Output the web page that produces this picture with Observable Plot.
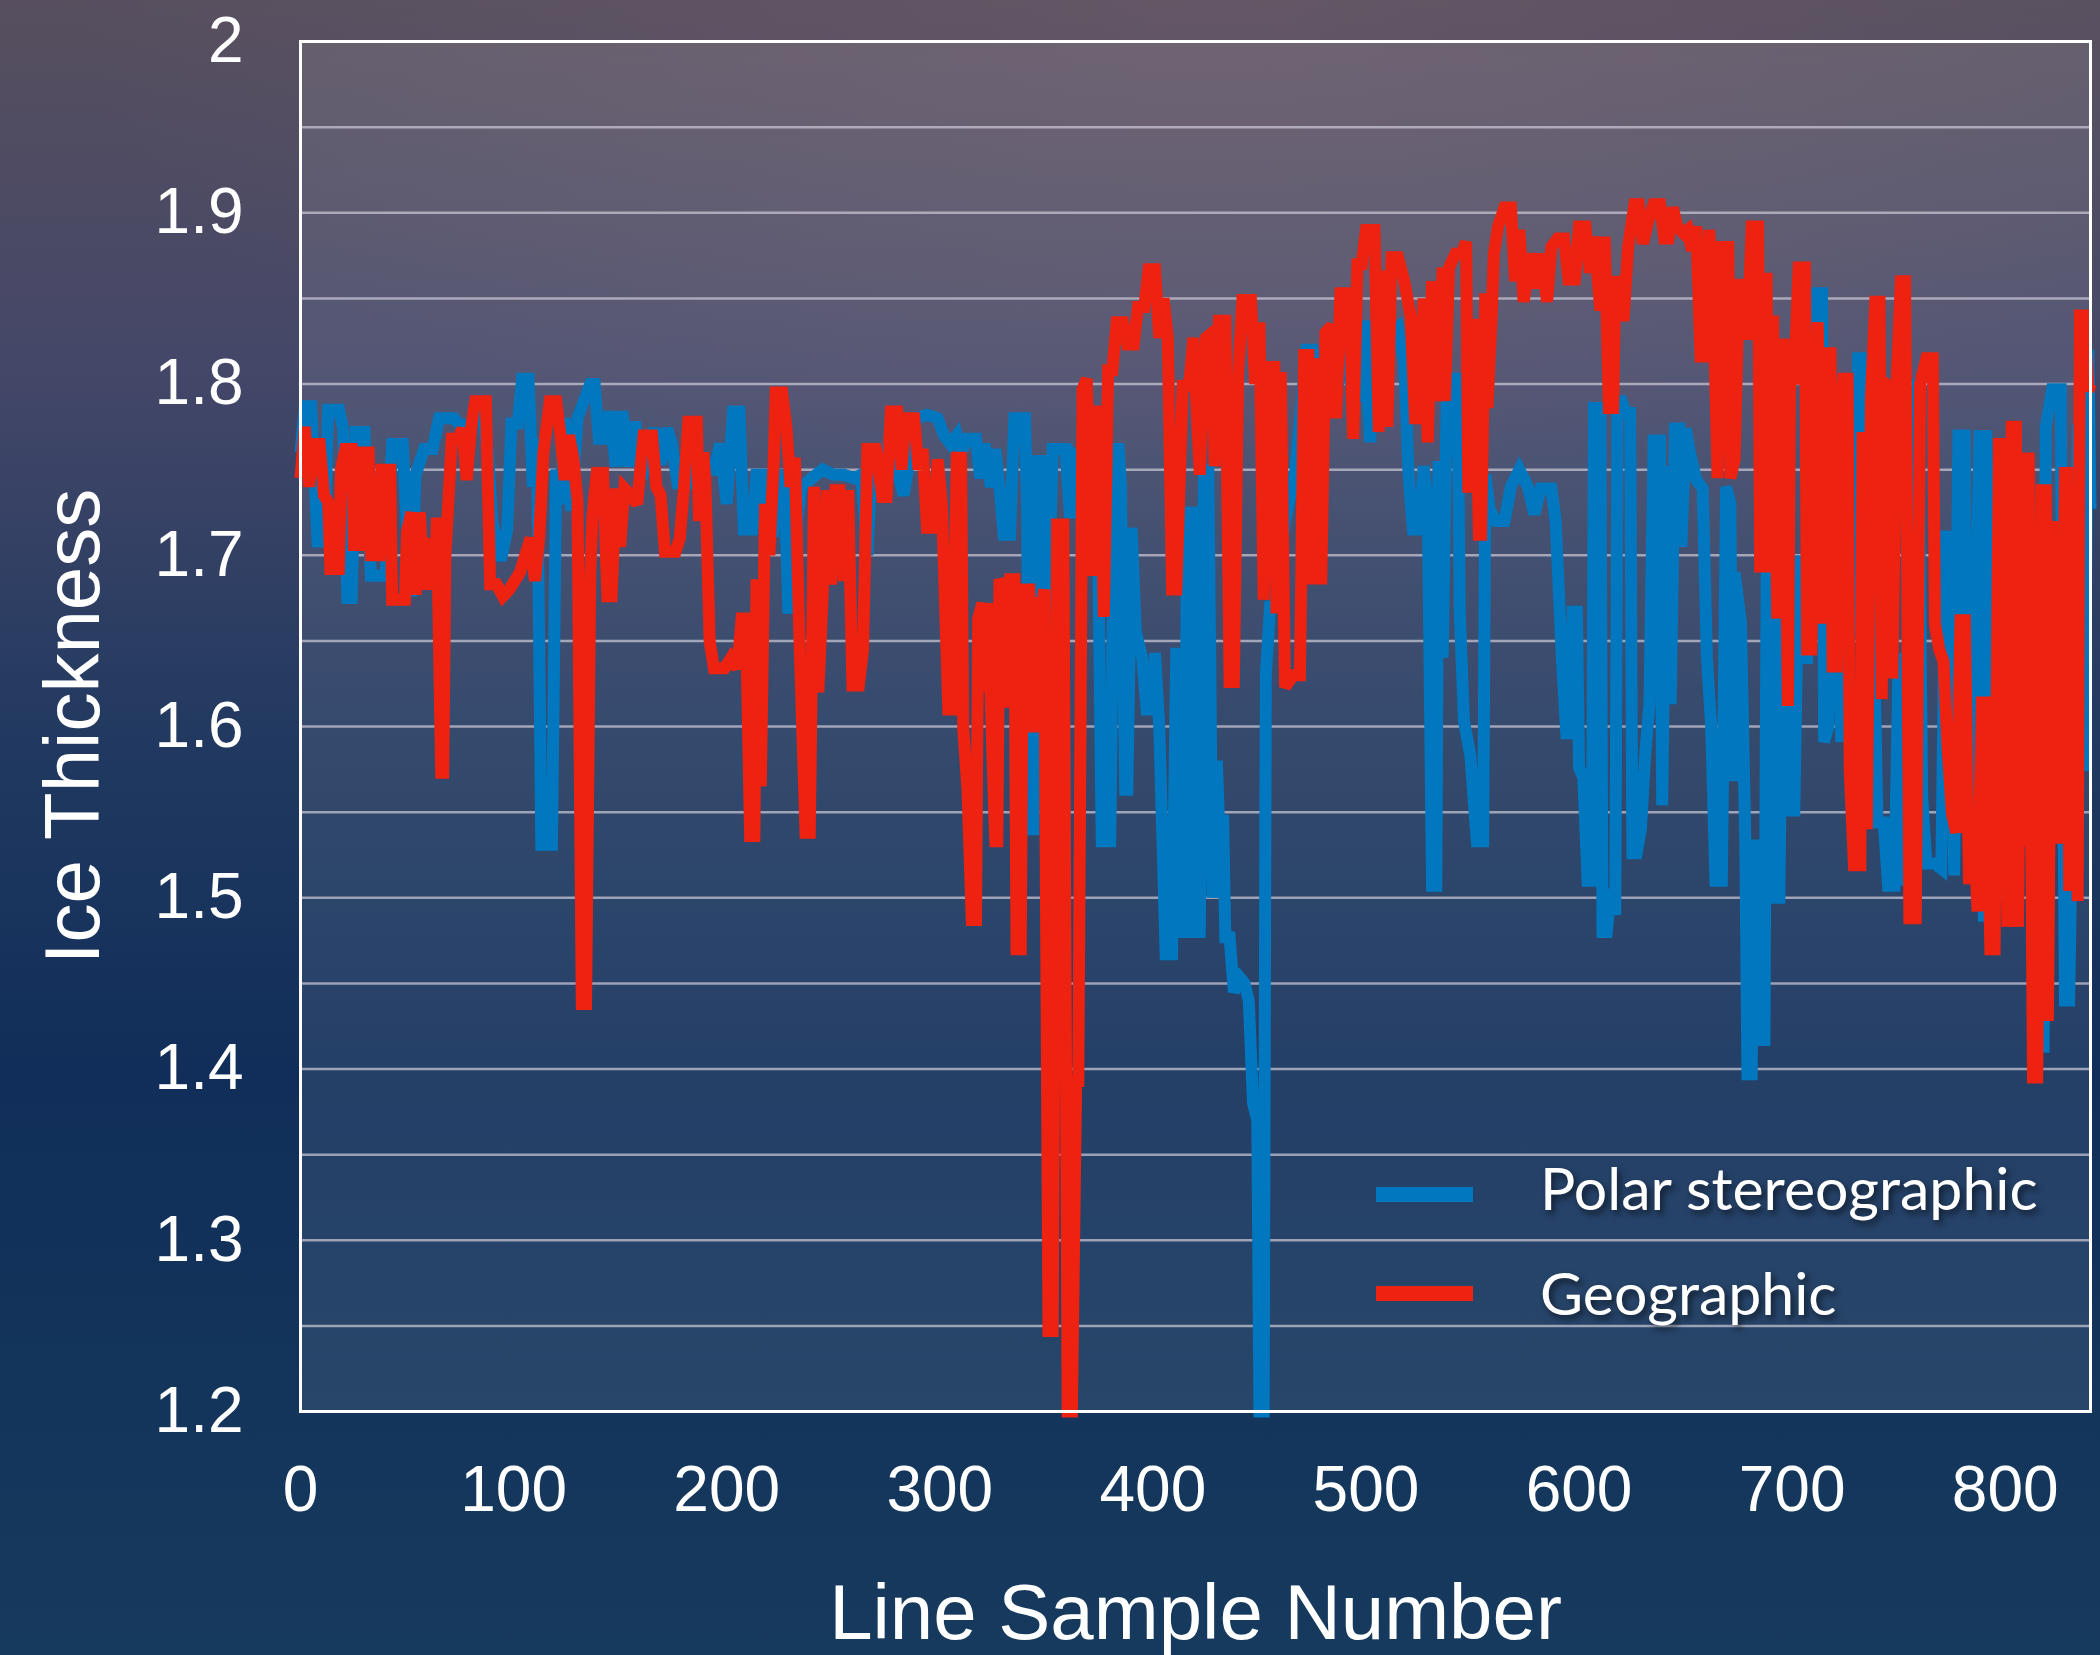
<!DOCTYPE html>
<html>
<head>
<meta charset="utf-8">
<script src="https://cdn.jsdelivr.net/npm/d3@7"></script>
<script src="https://cdn.jsdelivr.net/npm/@observablehq/plot@0.6"></script>
<style>
  html, body { margin: 0; padding: 0; }
  body {
    width: 2100px; height: 1655px; overflow: hidden;
    background:
      radial-gradient(ellipse 55% 30% at 58% 0%, rgba(120,98,112,0.4), rgba(120,98,112,0) 100%),
      linear-gradient(to bottom, #574f5e 0%, #444768 22%, #213960 45%, #102e59 65%, #163a5d 100%);
  }
  #wrap { position: relative; width: 2100px; height: 1655px; }
  #wrap svg { position: absolute; left: 0; top: 0; }
  .sw { position: absolute; width: 97px; height: 15px; }
  .lt { position: absolute; font-family: Lato, "Open Sans", sans-serif; font-size: 59px; line-height: 1.2; color: #fff;
        white-space: nowrap; text-shadow: 3px 4px 6px rgba(0,0,0,0.55); }
</style>
</head>
<body>
<div id="wrap"></div>
<script>
// ---- data ----
const seriesNames = ["Polar stereographic", "Geographic"];
const seriesColors = ["#0077bf", "#ee2211"];
const xTicks = [0, 100, 200, 300, 400, 500, 600, 700, 800];
const yTicks = [1.2, 1.3, 1.4, 1.5, 1.6, 1.7, 1.8, 1.9, 2];
const gridValues = [1.25, 1.3, 1.35, 1.4, 1.45, 1.5, 1.55, 1.6, 1.65, 1.7, 1.75, 1.8, 1.85, 1.9, 1.95];
const xLabel = "Line Sample Number";
const yLabel = "Ice Thickness";

const polarStereographic = [[0,1.76],[2,1.787],[5,1.787],[8,1.708],[11,1.708],[13,1.785],[18,1.785],[20,1.774],[22,1.675],[24,1.675],[26,1.772],[30,1.772],[33,1.688],[40,1.688],[43,1.765],[48,1.765],[50,1.715],[52,1.676],[54,1.747],[58,1.762],[62,1.762],[65,1.78],[72,1.78],[75,1.776],[80,1.776],[82,1.786],[85,1.786],[88,1.76],[90,1.72],[94,1.697],[97,1.715],[99,1.777],[102,1.777],[104,1.803],[107,1.803],[109,1.74],[111,1.768],[113,1.531],[118,1.531],[120,1.75],[122,1.73],[124,1.78],[127,1.726],[130,1.78],[133,1.79],[136,1.80],[138,1.80],[140,1.768],[143,1.768],[145,1.784],[148,1.752],[151,1.784],[154,1.752],[157,1.778],[160,1.745],[163,1.76],[166,1.774],[169,1.753],[172,1.774],[174,1.766],[177,1.742],[182,1.742],[185,1.765],[188,1.745],[191,1.75],[194,1.75],[197,1.765],[200,1.73],[203,1.784],[206,1.784],[208,1.715],[212,1.715],[214,1.747],[217,1.747],[219,1.714],[222,1.714],[224,1.747],[227,1.747],[229,1.666],[231,1.70],[235,1.74],[240,1.745],[245,1.75],[250,1.747],[255,1.747],[260,1.745],[263,1.747],[265,1.72],[266,1.70],[268,1.75],[270,1.762],[275,1.762],[278,1.755],[280,1.75],[283,1.735],[285,1.75],[289,1.78],[294,1.782],[299,1.78],[302,1.77],[305,1.765],[308,1.77],[310,1.76],[313,1.768],[317,1.768],[319,1.745],[321,1.765],[324,1.74],[326,1.762],[328,1.74],[330,1.712],[333,1.712],[335,1.78],[340,1.78],[341,1.725],[342,1.54],[344,1.54],[345,1.755],[348,1.755],[349,1.672],[351,1.672],[353,1.762],[359,1.762],[361,1.725],[363,1.725],[364,1.757],[370,1.75],[374,1.74],[376,1.533],[380,1.533],[382,1.762],[384,1.762],[385,1.74],[387,1.563],[388,1.563],[390,1.716],[392,1.655],[395,1.64],[397,1.61],[400,1.61],[401,1.643],[403,1.60],[406,1.467],[409,1.467],[411,1.646],[413,1.48],[415,1.48],[416,1.725],[419,1.725],[420,1.48],[422,1.48],[424,1.75],[426,1.75],[428,1.50],[430,1.58],[431,1.545],[433,1.545],[434,1.477],[436,1.477],[438,1.445],[441,1.453],[443,1.45],[445,1.44],[447,1.38],[449,1.37],[450,1.2],[452,1.2],[453,1.63],[455,1.67],[457,1.67],[462,1.72],[467,1.75],[472,1.82],[475,1.82],[478,1.80],[481,1.806],[484,1.79],[487,1.80],[490,1.817],[493,1.80],[496,1.79],[499,1.837],[502,1.766],[504,1.837],[508,1.80],[512,1.83],[515,1.833],[518,1.812],[520,1.747],[522,1.715],[525,1.715],[527,1.752],[529,1.731],[531,1.507],[533,1.507],[534,1.755],[536,1.64],[538,1.80],[539,1.757],[540,1.803],[543,1.803],[544,1.667],[546,1.603],[549,1.583],[552,1.533],[555,1.533],[556,1.747],[558,1.727],[561,1.72],[565,1.72],[568,1.74],[572,1.75],[576,1.74],[579,1.724],[582,1.739],[587,1.739],[589,1.72],[592,1.638],[594,1.596],[596,1.596],[597,1.667],[599,1.667],[600,1.576],[602,1.57],[604,1.51],[606,1.51],[607,1.786],[610,1.786],[611,1.48],[613,1.48],[615,1.505],[617,1.49],[618,1.79],[620,1.79],[622,1.783],[624,1.783],[625,1.526],[627,1.526],[629,1.54],[631,1.583],[633,1.613],[635,1.767],[638,1.767],[639,1.554],[641,1.752],[643,1.613],[645,1.774],[647,1.774],[648,1.705],[650,1.774],[652,1.76],[655,1.744],[658,1.739],[660,1.64],[662,1.60],[664,1.51],[667,1.51],[669,1.74],[671,1.73],[672,1.568],[673,1.69],[676,1.66],[678,1.534],[679,1.397],[681,1.397],[682,1.534],[683,1.492],[685,1.417],[687,1.417],[688,1.69],[690,1.69],[692,1.50],[694,1.50],[696,1.72],[698,1.551],[701,1.551],[703,1.70],[705,1.64],[707,1.64],[709,1.72],[711,1.853],[714,1.853],[715,1.591],[717,1.60],[719,1.75],[721,1.80],[723,1.591],[725,1.70],[727,1.65],[729,1.72],[731,1.815],[734,1.815],[736,1.60],[738,1.68],[740,1.544],[743,1.544],[745,1.507],[748,1.507],[750,1.642],[751,1.507],[753,1.643],[755,1.58],[757,1.62],[759,1.803],[761,1.559],[763,1.52],[767,1.52],[770,1.517],[772,1.711],[775,1.711],[776,1.513],[778,1.77],[781,1.77],[782,1.547],[785,1.60],[788,1.773],[790,1.486],[791,1.773],[793,1.677],[795,1.62],[798,1.65],[802,1.60],[806,1.62],[810,1.547],[813,1.659],[816,1.413],[818,1.413],[819,1.775],[822,1.797],[826,1.797],[828,1.44],[830,1.44],[832,1.60],[834,1.773],[836,1.773],[837,1.574],[839,1.82],[840,1.727]];

const geographic = [[0,1.745],[2,1.775],[4,1.74],[6,1.765],[9,1.765],[11,1.735],[13,1.731],[14,1.692],[18,1.692],[19,1.75],[21,1.762],[24,1.762],[25,1.706],[28,1.706],[29,1.76],[32,1.76],[33,1.70],[37,1.70],[38,1.75],[42,1.75],[43,1.674],[49,1.674],[50,1.714],[52,1.725],[54,1.677],[56,1.725],[58,1.68],[61,1.71],[63,1.68],[64,1.722],[66,1.573],[67,1.573],[68,1.70],[71,1.768],[74,1.768],[76,1.774],[78,1.744],[80,1.774],[82,1.79],[87,1.79],[89,1.683],[92,1.683],[95,1.676],[98,1.68],[103,1.69],[108,1.71],[110,1.685],[112,1.71],[114,1.76],[117,1.79],[120,1.79],[122,1.77],[124,1.744],[126,1.77],[128,1.757],[130,1.732],[132,1.438],[134,1.438],[136,1.69],[137,1.723],[139,1.748],[142,1.748],[144,1.676],[146,1.676],[148,1.739],[150,1.705],[152,1.739],[155,1.735],[158,1.73],[161,1.77],[165,1.77],[167,1.74],[169,1.735],[171,1.702],[176,1.702],[178,1.71],[180,1.74],[182,1.778],[186,1.778],[187,1.72],[189,1.76],[190,1.743],[192,1.65],[194,1.634],[199,1.634],[202,1.64],[205,1.634],[207,1.663],[209,1.663],[211,1.536],[213,1.536],[214,1.686],[216,1.565],[218,1.73],[220,1.70],[222,1.753],[223,1.795],[226,1.795],[228,1.775],[230,1.74],[232,1.757],[234,1.657],[237,1.538],[239,1.538],[241,1.74],[243,1.62],[245,1.675],[247,1.738],[249,1.683],[251,1.738],[253,1.738],[255,1.685],[257,1.738],[259,1.624],[262,1.624],[264,1.645],[266,1.762],[270,1.762],[273,1.734],[275,1.734],[277,1.784],[280,1.784],[282,1.75],[284,1.78],[288,1.78],[290,1.75],[292,1.762],[294,1.716],[297,1.716],[299,1.756],[301,1.73],[304,1.61],[306,1.61],[308,1.757],[310,1.757],[311,1.599],[313,1.563],[315,1.487],[317,1.487],[318,1.663],[320,1.672],[321,1.62],[323,1.672],[324,1.611],[326,1.533],[327,1.533],[328,1.686],[330,1.68],[331,1.611],[333,1.686],[335,1.686],[336,1.47],[338,1.47],[339,1.68],[342,1.68],[343,1.60],[345,1.60],[346,1.672],[348,1.672],[349,1.68],[351,1.247],[353,1.247],[355,1.718],[358,1.718],[360,1.2],[362,1.2],[364,1.393],[365,1.393],[367,1.797],[369,1.803],[371,1.688],[373,1.784],[375,1.784],[377,1.664],[379,1.808],[381,1.808],[383,1.836],[386,1.836],[388,1.823],[391,1.823],[393,1.845],[396,1.845],[398,1.867],[401,1.867],[403,1.827],[405,1.85],[407,1.827],[409,1.68],[411,1.68],[414,1.799],[417,1.799],[419,1.827],[422,1.747],[425,1.827],[428,1.83],[429,1.752],[431,1.837],[434,1.837],[436,1.626],[438,1.626],[440,1.806],[442,1.849],[446,1.849],[448,1.80],[450,1.836],[452,1.674],[454,1.81],[457,1.81],[458,1.666],[460,1.807],[462,1.623],[466,1.63],[469,1.63],[471,1.817],[473,1.817],[475,1.683],[477,1.815],[479,1.683],[481,1.83],[484,1.834],[486,1.78],[488,1.853],[492,1.853],[494,1.768],[496,1.87],[498,1.87],[500,1.89],[504,1.89],[506,1.772],[507,1.866],[509,1.842],[510,1.775],[512,1.874],[515,1.874],[518,1.86],[521,1.839],[523,1.78],[525,1.78],[527,1.85],[529,1.766],[531,1.86],[534,1.79],[536,1.868],[537,1.79],[539,1.868],[542,1.876],[545,1.876],[547,1.883],[548,1.74],[550,1.74],[551,1.838],[553,1.712],[554,1.712],[556,1.853],[557,1.786],[559,1.84],[560,1.876],[562,1.892],[565,1.903],[568,1.903],[570,1.86],[572,1.89],[574,1.848],[577,1.876],[580,1.856],[582,1.876],[585,1.848],[587,1.88],[590,1.885],[593,1.885],[595,1.861],[598,1.861],[600,1.892],[603,1.892],[605,1.865],[607,1.886],[610,1.843],[612,1.886],[614,1.786],[616,1.786],[617,1.863],[619,1.84],[621,1.84],[623,1.88],[626,1.905],[628,1.905],[630,1.882],[632,1.893],[635,1.905],[638,1.905],[640,1.885],[642,1.885],[644,1.903],[646,1.892],[649,1.888],[651,1.89],[653,1.878],[655,1.892],[657,1.816],[659,1.816],[661,1.89],[663,1.85],[665,1.745],[667,1.88],[670,1.88],[671,1.745],[673,1.756],[675,1.858],[677,1.858],[679,1.826],[681,1.892],[684,1.892],[685,1.69],[688,1.865],[689,1.69],[691,1.84],[693,1.663],[694,1.823],[696,1.823],[698,1.612],[699,1.803],[701,1.803],[703,1.868],[706,1.868],[707,1.645],[709,1.645],[711,1.806],[712,1.836],[714,1.66],[716,1.818],[718,1.818],[719,1.635],[721,1.635],[722,1.78],[724,1.803],[726,1.803],[727,1.574],[729,1.519],[732,1.519],[733,1.772],[735,1.54],[737,1.793],[739,1.848],[741,1.848],[742,1.616],[744,1.80],[746,1.798],[747,1.628],[749,1.80],[751,1.86],[753,1.86],[755,1.488],[758,1.488],[760,1.80],[763,1.815],[766,1.815],[767,1.66],[769,1.645],[771,1.638],[773,1.586],[775,1.549],[777,1.538],[779,1.662],[781,1.662],[783,1.508],[785,1.546],[787,1.492],[789,1.614],[791,1.614],[793,1.47],[795,1.47],[797,1.765],[799,1.765],[801,1.483],[803,1.775],[805,1.775],[806,1.483],[808,1.76],[810,1.53],[811,1.76],[813,1.395],[815,1.395],[817,1.738],[819,1.738],[820,1.428],[822,1.72],[824,1.535],[826,1.535],[828,1.748],[829,1.748],[830,1.504],[832,1.74],[834,1.498],[835,1.84],[837,1.84],[839,1.796],[840,1.80]];

// ---- chart ----
const lineStyle = {x: d => d[0], y: d => d[1], strokeWidth: 12, strokeLinejoin: "miter", strokeMiterlimit: 2.5, strokeLinecap: "butt"};

const chart = Plot.plot({
  width: 2100,
  height: 1655,
  marginLeft: 300,
  marginRight: 10,
  marginTop: 41,
  marginBottom: 244,
  style: {background: "transparent", color: "white", fontFamily: "'Liberation Sans', Arial, Helvetica, sans-serif", overflow: "visible"},
  x: {domain: [0, 840], label: null},
  y: {domain: [1.2, 2], label: null},
  marks: [
    Plot.frame({fill: "white", fillOpacity: 0.085, stroke: null}),
    Plot.ruleY(gridValues, {stroke: "#cfcbd8", strokeOpacity: 0.7, strokeWidth: 2.5}),
    Plot.line(polarStereographic, {...lineStyle, stroke: seriesColors[0]}),
    Plot.line(geographic, {...lineStyle, stroke: seriesColors[1]}),
    Plot.frame({stroke: "white", strokeWidth: 3}),
    Plot.axisY(yTicks, {tickSize: 0, tickPadding: 57, fontSize: 64, label: null, tickFormat: d => String(d)}),
    Plot.axisX(xTicks, {tickSize: 0, tickPadding: 54, fontSize: 64, label: null, tickFormat: d => String(d)}),
    Plot.text([xLabel], {frameAnchor: "bottom", lineAnchor: "top", dy: 172, fontSize: 78, fill: "white"}),
    Plot.text([yLabel], {frameAnchor: "left", textAnchor: "middle", rotate: -90, lineAnchor: "bottom", dx: -202, fontSize: 78, fill: "white"})
  ]
});

const wrap = document.getElementById("wrap");
wrap.appendChild(chart);

// ---- legend (overlay inside the plot area) ----
const legendRows = [
  {name: seriesNames[0], color: seriesColors[0], swTop: 1187, txtTop: 1153},
  {name: seriesNames[1], color: seriesColors[1], swTop: 1286, txtTop: 1258}
];
for (const r of legendRows) {
  const sw = document.createElement("div");
  sw.className = "sw";
  sw.style.left = "1376px";
  sw.style.top = r.swTop + "px";
  sw.style.background = r.color;
  wrap.appendChild(sw);
  const t = document.createElement("div");
  t.className = "lt";
  t.style.left = "1540px";
  t.style.top = r.txtTop + "px";
  t.textContent = r.name;
  wrap.appendChild(t);
}
</script>
</body>
</html>
